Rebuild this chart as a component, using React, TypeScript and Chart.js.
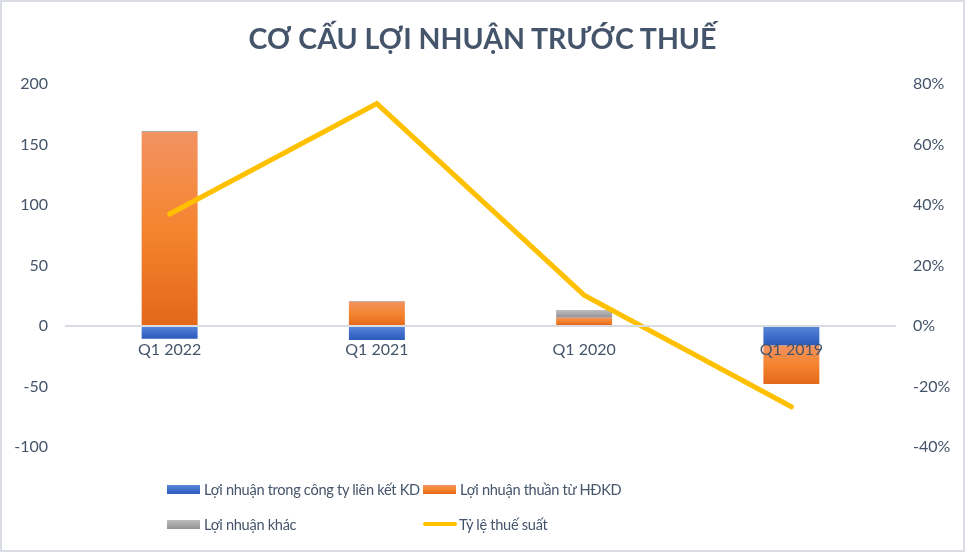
import React, { useEffect, useRef } from "react";
import { Chart, registerables } from "chart.js";

Chart.register(...registerables);

const categories = ["Q1 2022", "Q1 2021", "Q1 2020", "Q1 2019"];
const lnLienKet = [-10.5, -11.5, 0.7, -16];
const lnThuan = [160.4, 20.1, 6.2, -32];
const lnKhac = [0.8, 0.6, 6.3, 0];
const tyLeThue = [0.37, 0.735, 0.102, -0.267];
const leftTicks = { min: -100, max: 200, step: 50 };
const rightTicks = { min: -0.4, max: 0.8, step: 0.2 };

const barSeries = [lnLienKet, lnThuan, lnKhac];
const TEXT = "#44546A";
const FONT = "Lato, 'Open Sans', sans-serif";

const gradStops: string[][] = [
  ["#5C88D8", "#3F6FCB", "#2C5BBA"],
  ["#F29361", "#F5842F", "#E3681A"],
  ["#BDBDBD", "#A9A9A9", "#929292"],
];

function stackBounds(di: number, i: number): [number, number] {
  const v = barSeries[di][i];
  let start = 0;
  for (let k = 0; k < di; k++) {
    const w = barSeries[k][i];
    if (w >= 0 === v >= 0) start += w;
  }
  return [start, start + v];
}

function barFill(di: number) {
  return (ctx: any) => {
    const stops = gradStops[di];
    if (ctx.type !== "data") return stops[1];
    const chart = ctx.chart;
    const y = chart.scales && chart.scales.y;
    if (!y || !chart.chartArea) return stops[1];
    const [a, b] = stackBounds(di, ctx.dataIndex);
    const top = y.getPixelForValue(Math.max(a, b));
    const bot = y.getPixelForValue(Math.min(a, b));
    if (!isFinite(top) || !isFinite(bot) || bot - top < 0.01) return stops[1];
    const g = chart.ctx.createLinearGradient(0, top, 0, bot);
    g.addColorStop(0, stops[0]);
    g.addColorStop(0.5, stops[1]);
    g.addColorStop(1, stops[2]);
    return g;
  };
}

const legendItems = [
  { label: "Lợi nhuận trong công ty liên kết KD", kind: 0, x: 167, y: 489 },
  { label: "Lợi nhuận thuần từ HĐKD", kind: 1, x: 423, y: 489 },
  { label: "Lợi nhuận khác", kind: 2, x: 167, y: 524 },
  { label: "Tỷ lệ thuế suất", kind: 3, x: 423, y: 524 },
];

export default function App() {
  const ref = useRef<HTMLCanvasElement | null>(null);

  useEffect(() => {
    if (!ref.current) return;
    const chart = new Chart(ref.current, {
      type: "bar",
      data: {
        labels: categories,
        datasets: [
          {
            type: "line",
            label: "Tỷ lệ thuế suất",
            data: tyLeThue,
            yAxisID: "y1",
            borderColor: "#FFC000",
            backgroundColor: "#FFC000",
            borderWidth: 5,
            pointRadius: 0,
            pointHoverRadius: 0,
            tension: 0,
            borderCapStyle: "round",
            borderJoinStyle: "miter",
            order: 0,
          } as any,
          {
            label: "Lợi nhuận trong công ty liên kết KD",
            data: lnLienKet,
            backgroundColor: barFill(0),
            yAxisID: "y",
            order: 1,
          },
          {
            label: "Lợi nhuận thuần từ HĐKD",
            data: lnThuan,
            backgroundColor: barFill(1),
            yAxisID: "y",
            order: 1,
          },
          {
            label: "Lợi nhuận khác",
            data: lnKhac,
            backgroundColor: barFill(2),
            yAxisID: "y",
            order: 1,
          },
        ],
      },
      options: {
        animation: false,
        responsive: false,
        devicePixelRatio: 1,
        datasets: {
          bar: { categoryPercentage: 1, barPercentage: 0.27 },
        },
        layout: { padding: { top: 84, bottom: 105, left: 0, right: 0 } },
        plugins: {
          legend: { display: false },
          title: { display: false },
          tooltip: { enabled: false },
        },
        scales: {
          x: {
            stacked: true,
            position: { y: 0 } as any,
            grid: { display: false, drawTicks: false },
            border: { display: true, color: "#D9DDE3", width: 2, z: 1 } as any,
            ticks: {
              color: TEXT,
              font: { family: FONT, size: 16 },
              padding: 14,
              maxRotation: 0,
              z: 2,
            },
          },
          y: {
            stacked: true,
            position: "left",
            min: leftTicks.min,
            max: leftTicks.max,
            grid: { display: false, drawTicks: false },
            border: { display: false },
            ticks: {
              stepSize: leftTicks.step,
              color: TEXT,
              font: { family: FONT, size: 16 },
              padding: 18,
            },
            afterFit: (s: any) => {
              s.width = 66;
            },
          },
          y1: {
            position: "right",
            min: rightTicks.min,
            max: rightTicks.max,
            grid: { display: false, drawTicks: false },
            border: { display: false },
            ticks: {
              stepSize: rightTicks.step,
              color: TEXT,
              font: { family: FONT, size: 16 },
              padding: 18,
              callback: (v: any) => Math.round(Number(v) * 100) + "%",
            },
            afterFit: (s: any) => {
              s.width = 70;
            },
          },
        },
      },
    });
    return () => chart.destroy();
  }, []);

  const boxBg = (k: number) =>
    `linear-gradient(to bottom, ${gradStops[k][0]}, ${gradStops[k][1]}, ${gradStops[k][2]})`;

  return (
    <div
      style={{
        position: "fixed",
        left: 0,
        top: 0,
        width: 965,
        height: 552,
        background: "#fff",
        fontFamily: FONT,
        overflow: "hidden",
      }}
    >
      <canvas
        ref={ref}
        width={965}
        height={552}
        style={{ position: "absolute", left: 0, top: 0, width: 965, height: 552 }}
      />
      <div
        style={{
          position: "absolute",
          left: 0,
          top: 0,
          width: 961,
          height: 548,
          border: "2px solid #D9DDE3",
          pointerEvents: "none",
        }}
      />
      <div
        style={{
          position: "absolute",
          left: 0,
          width: 965,
          top: 20,
          textAlign: "center",
          fontWeight: 700,
          fontSize: 28.5,
          lineHeight: "36px",
          color: TEXT,
        }}
      >
        CƠ CẤU LỢI NHUẬN TRƯỚC THUẾ
      </div>
      {legendItems.map((it) => (
        <div
          key={it.label}
          style={{
            position: "absolute",
            left: it.x,
            top: it.y - 12,
            height: 24,
            display: "flex",
            alignItems: "center",
            whiteSpace: "nowrap",
            color: TEXT,
            fontSize: 14.6,
            letterSpacing: -0.3,
          }}
        >
          {it.kind < 3 ? (
            <span
              style={{
                display: "inline-block",
                width: 33,
                height: 9,
                background: boxBg(it.kind),
                marginRight: 4,
              }}
            />
          ) : (
            <span
              style={{
                display: "inline-block",
                width: 34,
                height: 4,
                borderRadius: 2,
                background: "#FFC000",
                marginRight: 2,
              }}
            />
          )}
          <span>{it.label}</span>
        </div>
      ))}
    </div>
  );
}
